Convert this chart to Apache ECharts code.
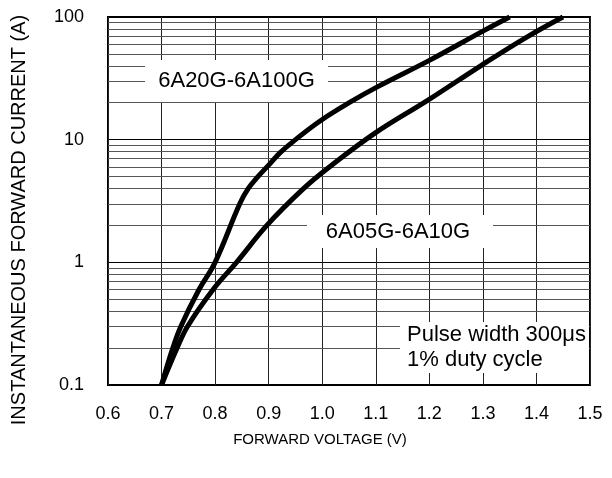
<!DOCTYPE html>
<html>
<head>
<meta charset="utf-8">
<script src="https://cdn.jsdelivr.net/npm/echarts@6/dist/echarts.min.js"></script>
<style>html,body{margin:0;padding:0;background:#fff;}#c{width:612px;height:478px;}</style>
</head>
<body>
<div id="c"></div>
<script>
// Forward voltage (V) / instantaneous forward current (A)
var voltagesA = [0.70, 0.721, 0.736, 0.770, 0.80, 0.846, 0.862, 0.880, 0.900, 0.921, 0.945, 0.996, 1.052, 1.102, 1.201, 1.300, 1.350];
var currentsA = [0.1, 0.2, 0.3, 0.6, 1.0, 3.0, 4.0, 5.0, 6.2, 7.8, 9.6, 14.2, 20.2, 26.8, 44.5, 76.7, 100];
var voltagesB = [0.70, 0.729, 0.749, 0.797, 0.840, 0.897, 0.964, 1.011, 1.0985, 1.1975, 1.298, 1.382, 1.4495];
var currentsB = [0.1, 0.2, 0.303, 0.606, 1.0, 2.01, 3.95, 5.87, 11.3, 21.0, 40.6, 68.6, 100];
var labelA = '6A20G-6A100G';
var labelB = '6A05G-6A10G';
var noteLines = ['Pulse width 300μs', '1% duty cycle'];
var xMin = 0.6, xMax = 1.5, xStep = 0.1;
var yMin = 0.1, yMax = 100;
var minorY = [0.2,0.3,0.4,0.5,0.6,0.7,0.8,0.9, 2,3,4,5,6,7,8,9, 20,30,40,50,60,70,80,90];

function pairs(xs, ys){ return xs.map(function(x,i){ return [x, ys[i]]; }); }

var chart = echarts.init(document.getElementById('c'), null, {renderer:'canvas'});
var font = 'Liberation Sans, Arial, sans-serif';
chart.setOption({
  animation: false,
  backgroundColor: '#fff',
  grid: {left:108, right:22, top:17, bottom:93, show:true, borderColor:'#000', borderWidth:2, backgroundColor:'transparent'},
  xAxis: {
    type:'value', min:xMin, max:xMax, interval:xStep,
    axisLine:{show:false}, axisTick:{show:false},
    axisLabel:{color:'#000', fontSize:18, fontFamily:font, margin:20, formatter:function(v){return v.toFixed(1);}},
    splitLine:{show:true, lineStyle:{color:'#222', width:1}}
  },
  yAxis: {
    type:'log', logBase:10, min:yMin, max:yMax,
    axisLine:{show:false}, axisTick:{show:false},
    axisLabel:{color:'#000', fontSize:18, fontFamily:font, margin:24},
    splitLine:{show:true, lineStyle:{color:'#000', width:1}},
    minorTick:{show:false}, minorSplitLine:{show:false}
  },
  series: [
    {type:'line', data:[], z:1, silent:true,
     markLine:{silent:true, symbol:['none','none'], label:{show:false},
       lineStyle:{color:'#555', width:1, type:'solid'},
       data: minorY.map(function(v){return {yAxis:v};})}},
    {type:'line', name:labelA, data:pairs(voltagesA,currentsA), smooth:0.4, showSymbol:false, z:5,
     lineStyle:{color:'#000', width:5}},
    {type:'line', name:labelB, data:pairs(voltagesB,currentsB), smooth:0.4, showSymbol:false, z:5,
     lineStyle:{color:'#000', width:5}}
  ],
  graphic: [
    {type:'rect', z:100, shape:{x:145, y:60, width:183, height:42}, style:{fill:'#fff'}},
    {type:'text', z:101, x:236.5, y:81, style:{text:labelA, fill:'#000', font:'22px '+font, textAlign:'center', textVerticalAlign:'middle'}},
    {type:'rect', z:100, shape:{x:307, y:215, width:186, height:33}, style:{fill:'#fff'}},
    {type:'text', z:101, x:398, y:232, style:{text:labelB, fill:'#000', font:'22px '+font, textAlign:'center', textVerticalAlign:'middle'}},
    {type:'rect', z:100, shape:{x:400, y:322, width:189, height:51}, style:{fill:'#fff'}},
    {type:'text', z:101, x:407, y:335, style:{text:noteLines[0], fill:'#000', font:'22px '+font, textAlign:'left', textVerticalAlign:'middle'}},
    {type:'text', z:101, x:407, y:360, style:{text:noteLines[1], fill:'#000', font:'22px '+font, textAlign:'left', textVerticalAlign:'middle'}},
    {type:'text', z:101, x:320, y:440, style:{text:'FORWARD VOLTAGE (V)', fill:'#000', font:'15px '+font, textAlign:'center', textVerticalAlign:'middle'}},
    {type:'text', z:101, x:19, y:220, rotation:Math.PI/2, style:{text:'INSTANTANEOUS FORWARD CURRENT (A)', fill:'#000', font:'20px '+font, textAlign:'center', textVerticalAlign:'middle'}}
  ]
});
</script>
</body>
</html>
